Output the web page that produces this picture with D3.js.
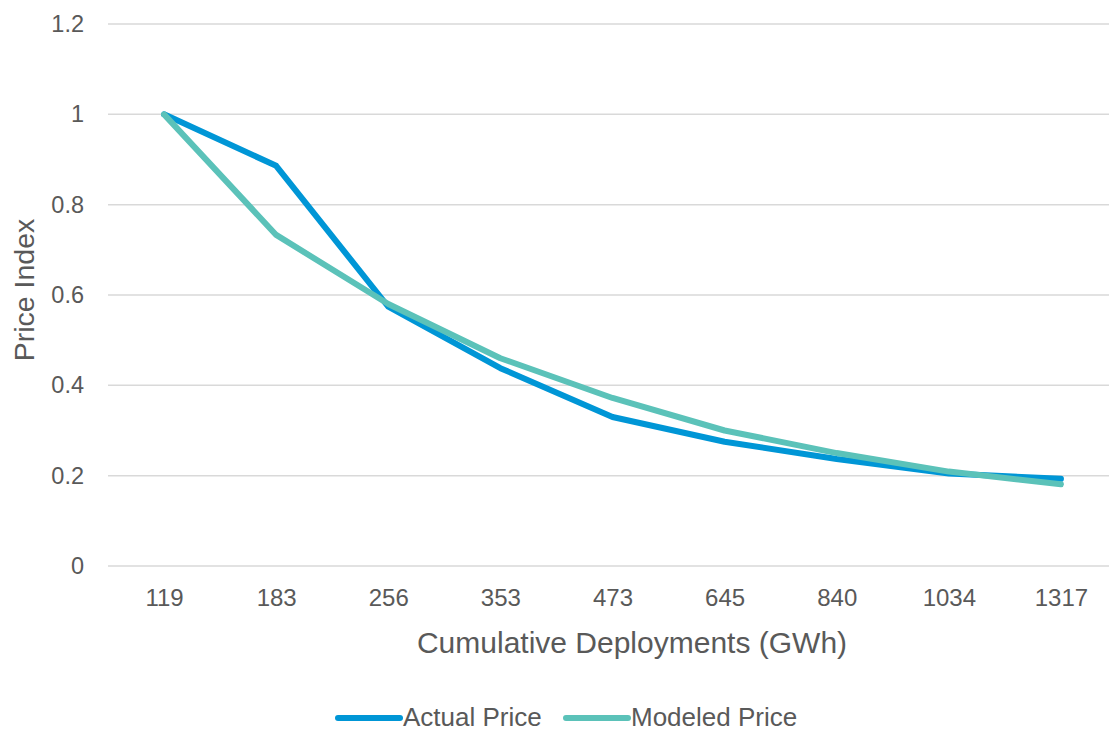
<!DOCTYPE html>
<html>
<head>
<meta charset="utf-8">
<script src="https://cdn.jsdelivr.net/npm/d3@7"></script>
<style>
  html, body { margin: 0; padding: 0; background: #fff; }
  svg { display: block; font-family: "Liberation Sans", Arial, sans-serif; }
</style>
</head>
<body>
<svg id="chart" width="1109" height="732"></svg>
<script>
const categories = ["119", "183", "256", "353", "473", "645", "840", "1034", "1317"];
const actualPrice = [1, 0.886, 0.574, 0.438, 0.33, 0.275, 0.237, 0.205, 0.193];
const modeledPrice = [1, 0.733, 0.58, 0.46, 0.372, 0.30, 0.25, 0.209, 0.181];
const yTicks = [0, 0.2, 0.4, 0.6, 0.8, 1, 1.2];
const seriesNames = ["Actual Price", "Modeled Price"];
const seriesColors = ["#0096D6", "#5BC2B9"];

const svg = d3.select("#chart");
const plotLeft = 108, plotRight = 1117, plotTop = 24, plotBottom = 566;

const x = d3.scalePoint().domain(categories).range([plotLeft, plotRight]).padding(0.5);
const y = d3.scaleLinear().domain([0, 1.2]).range([plotBottom, plotTop]);

// gridlines
svg.append("g").selectAll("line").data(yTicks).join("line")
  .attr("x1", plotLeft).attr("x2", 1109)
  .attr("y1", d => y(d)).attr("y2", d => y(d))
  .attr("stroke", "#D9D9D9").attr("stroke-width", 1.5);

// y axis labels
const yAxis = d3.axisLeft(y).tickValues(yTicks).tickSize(0).tickPadding(0)
  .tickFormat(d => d3.format("~g")(d));
const gy = svg.append("g").attr("transform", `translate(84,0)`).call(yAxis);
gy.select(".domain").remove();
gy.selectAll("text").attr("font-size", 23.5).attr("fill", "#595959")
  .attr("font-family", "Liberation Sans, Arial, sans-serif");

// x axis labels
const xAxis = d3.axisBottom(x).tickSize(0).tickPadding(0);
const gx = svg.append("g").attr("transform", `translate(0,589)`).call(xAxis);
gx.select(".domain").remove();
gx.selectAll("text").attr("font-size", 24).attr("fill", "#595959")
  .attr("font-family", "Liberation Sans, Arial, sans-serif");

// axis titles
svg.append("text").attr("x", 632).attr("y", 653).attr("text-anchor", "middle")
  .attr("font-size", 30).attr("fill", "#595959").text("Cumulative Deployments (GWh)");
svg.append("text").attr("transform", "translate(34,290) rotate(-90)")
  .attr("text-anchor", "middle").attr("font-size", 28.5).attr("fill", "#595959").text("Price Index");

// lines
const line = d3.line().x((d, i) => x(categories[i])).y(d => y(d));
[actualPrice, modeledPrice].forEach((vals, k) => {
  svg.append("path").datum(vals)
    .attr("d", line).attr("fill", "none")
    .attr("stroke", seriesColors[k]).attr("stroke-width", 6)
    .attr("stroke-linecap", "round").attr("stroke-linejoin", "round");
});

// legend
const legendItems = [{x0: 338, x1: 400, tx: 403}, {x0: 566, x1: 628, tx: 631}];
legendItems.forEach((it, k) => {
  svg.append("line").attr("x1", it.x0).attr("x2", it.x1).attr("y1", 718).attr("y2", 718)
    .attr("stroke", seriesColors[k]).attr("stroke-width", 6).attr("stroke-linecap", "round");
  svg.append("text").attr("x", it.tx).attr("y", 726).attr("font-size", 26)
    .attr("fill", "#595959").text(seriesNames[k]);
});
</script>
</body>
</html>
